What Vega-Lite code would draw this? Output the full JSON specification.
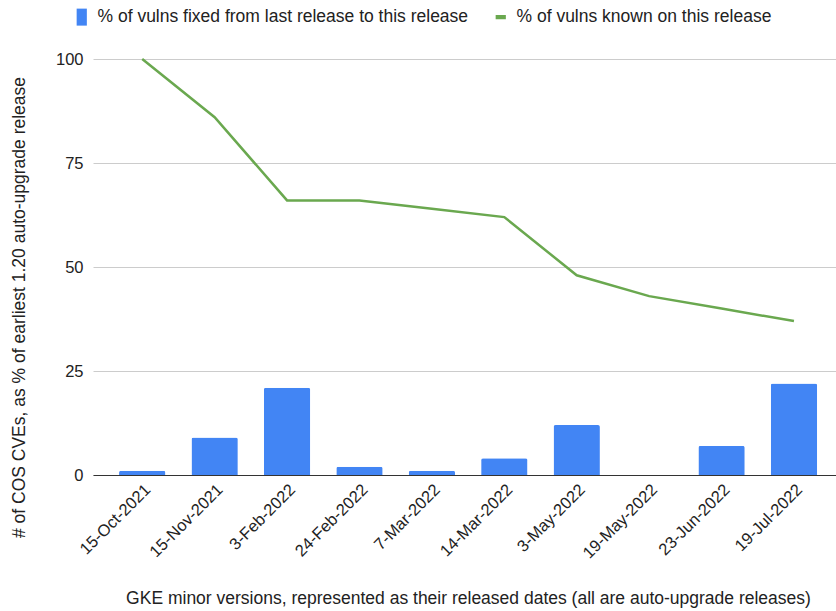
{
  "$schema": "https://vega.github.io/schema/vega-lite/v6.json",
  "width": 743,
  "height": 416,
  "autosize": {"type": "none"},
  "padding": {"left": 93, "top": 59, "right": 0, "bottom": 136},
  "background": "white",
  "config": {
    "view": {"stroke": null},
    "font": "Liberation Sans",
    "axis": {"labelFont": "Liberation Sans", "titleFont": "Liberation Sans", "labelColor": "#222222", "titleColor": "#222222", "labelFontSize": 16.5, "titleFontSize": 17.5, "titleFontWeight": "normal"},
    "legend": {"labelFont": "Liberation Sans", "labelFontSize": 17.5, "labelColor": "#222222"}
  },
  "data": {
    "values": [
      {"date": "15-Oct-2021", "series": "% of vulns fixed from last release to this release", "value": 1},
      {"date": "15-Nov-2021", "series": "% of vulns fixed from last release to this release", "value": 9},
      {"date": "3-Feb-2022", "series": "% of vulns fixed from last release to this release", "value": 21},
      {"date": "24-Feb-2022", "series": "% of vulns fixed from last release to this release", "value": 2},
      {"date": "7-Mar-2022", "series": "% of vulns fixed from last release to this release", "value": 1},
      {"date": "14-Mar-2022", "series": "% of vulns fixed from last release to this release", "value": 4},
      {"date": "3-May-2022", "series": "% of vulns fixed from last release to this release", "value": 12},
      {"date": "19-May-2022", "series": "% of vulns fixed from last release to this release", "value": 0},
      {"date": "23-Jun-2022", "series": "% of vulns fixed from last release to this release", "value": 7},
      {"date": "19-Jul-2022", "series": "% of vulns fixed from last release to this release", "value": 22},
      {"date": "15-Oct-2021", "series": "% of vulns known on this release", "value": 100},
      {"date": "15-Nov-2021", "series": "% of vulns known on this release", "value": 86},
      {"date": "3-Feb-2022", "series": "% of vulns known on this release", "value": 66},
      {"date": "24-Feb-2022", "series": "% of vulns known on this release", "value": 66},
      {"date": "7-Mar-2022", "series": "% of vulns known on this release", "value": 64},
      {"date": "14-Mar-2022", "series": "% of vulns known on this release", "value": 62},
      {"date": "3-May-2022", "series": "% of vulns known on this release", "value": 48},
      {"date": "19-May-2022", "series": "% of vulns known on this release", "value": 43},
      {"date": "23-Jun-2022", "series": "% of vulns known on this release", "value": 40},
      {"date": "19-Jul-2022", "series": "% of vulns known on this release", "value": 37}
    ]
  },
  "encoding": {
    "x": {
      "field": "date",
      "type": "nominal",
      "sort": null,
      "scale": {"paddingInner": 0.36, "paddingOuter": 0.31, "align": 0.58},
      "axis": {
        "title": "GKE minor versions, represented as their released dates (all are auto-upgrade releases)",
        "labelAngle": -45,
        "labelAlign": "right",
        "labelBaseline": "top",
        "labelPadding": 6,
        "ticks": false,
        "domainColor": "#333333",
        "domainWidth": 1,
        "titleX": 375,
        "titleY": 123,
        "titleBaseline": "middle",
        "titleAnchor": null
      }
    },
    "y": {
      "field": "value",
      "type": "quantitative",
      "scale": {"domain": [0, 100], "nice": false},
      "axis": {
        "title": "# of COS CVEs, as % of earliest 1.20 auto-upgrade release",
        "values": [0, 25, 50, 75, 100],
        "domain": false,
        "ticks": false,
        "labelPadding": 10,
        "gridColor": "#cccccc",
        "gridWidth": 1,
        "titleX": -74,
        "titleY": 248,
        "titleAngle": -90,
        "titleAlign": "center",
        "titleBaseline": "middle"
      }
    }
  },
  "layer": [
    {
      "transform": [{"filter": "datum.series === '% of vulns fixed from last release to this release'"}],
      "mark": {"type": "bar", "color": "#4285F4", "cornerRadiusTopLeft": 2, "cornerRadiusTopRight": 2}
    },
    {
      "transform": [{"filter": "datum.series === '% of vulns known on this release'"}],
      "mark": {"type": "line", "color": "#6AA84F", "strokeWidth": 2.5}
    },
    {
      "mark": {"type": "point", "filled": true, "opacity": 0},
      "encoding": {
        "color": {
          "field": "series",
          "type": "nominal",
          "scale": {"domain": ["% of vulns fixed from last release to this release", "% of vulns known on this release"], "range": ["#4285F4", "#6AA84F"]},
          "legend": {
            "title": null,
            "orient": "none",
            "direction": "horizontal",
            "legendX": -20,
            "legendY": -51,
            "padding": 0,
            "symbolOpacity": 1,
            "symbolSize": 289,
            "symbolStrokeWidth": 0,
            "labelOffset": 7,
            "columnPadding": 23,
            "labelLimit": 500
          }
        },
        "shape": {
          "field": "series",
          "type": "nominal",
          "scale": {"domain": ["% of vulns fixed from last release to this release", "% of vulns known on this release"], "range": ["M-0.6,-1H0.6V1H-0.6Z", "M-0.6,-0.25H0.6V0.25H-0.6Z"]},
          "legend": null
        }
      }
    }
  ]
}
